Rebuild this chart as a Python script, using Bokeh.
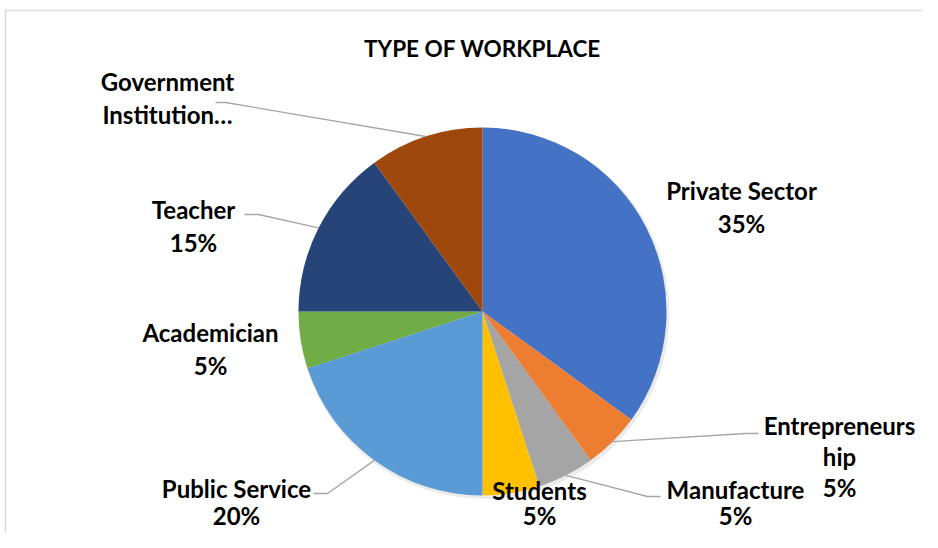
import math
from bokeh.plotting import figure
from bokeh.models import Range1d, ColumnDataSource
from bokeh.core.properties import value
from bokeh.embed import file_html
from bokeh.resources import INLINE

# ---- data ----
categories = ["Private Sector", "Entrepreneurship", "Manufacture", "Students",
              "Public Service", "Academician", "Teacher", "Government Institution"]
percents = [35, 5, 5, 5, 20, 5, 15, 10]
colors = ["#4472C4", "#ED7D31", "#A5A5A5", "#FFC000",
          "#5B9BD5", "#70AD47", "#264478", "#9E480E"]
label_lines = [["Private Sector", "35%"],
               ["Entrepreneurs", "hip", "5%"],
               ["Manufacture", "5%"],
               ["Students", "5%"],
               ["Public Service", "20%"],
               ["Academician", "5%"],
               ["Teacher", "15%"],
               ["Government", "Institution\u2026"]]
title_text = "TYPE OF WORKPLACE"

# ---- layout (picture pixel coordinates; y measured from top) ----
W, H = 922, 532
def Y(sy):
    return H - sy

CX, CY, R = 482, 311, 184
# label first-line center positions
label_pos = [(741, 190), (839, 425), (735, 489), (539, 490),
             (236, 488), (210, 332), (193, 209), (167, 81)]
line_h = [33, 31, 26, 25, 27, 33, 33, 33]
# leader line elbows (None = no leader)
leaders = [None,
           [(745, 433), (758, 433)],
           [(647, 496), (660, 496)],
           None,
           [(327, 493), (313, 493)],
           None,
           [(258, 214), (244, 214)],
           [(225, 102), (215, 102)]]

p = figure(width=W, height=H, output_backend="svg", toolbar_location=None,
           x_range=Range1d(0, W), y_range=Range1d(0, H),
           x_axis_type=None, y_axis_type=None, min_border=0)
p.grid.visible = False
p.outline_line_color = None
p.background_fill_color = "white"
p.border_fill_color = "white"

# chart border (left & top)
p.line([5, 5, W], [Y(H), Y(10), Y(10)], line_color="#D9D9D9", line_width=1.5)

# wedges
starts, ends, mids = [], [], []
cum = 0
for v in percents:
    a0 = 90 - cum * 3.6
    cum += v
    a1 = 90 - cum * 3.6
    starts.append(a1)
    ends.append(a0)
    mids.append((a0 + a1) / 2)

# subtle shadow
p.wedge(x=CX + 1.5, y=Y(CY) - 2, radius=R + 1.5, start_angle=0, end_angle=360,
        start_angle_units="deg", end_angle_units="deg",
        fill_color="#000000", fill_alpha=0.08, line_color=None)

src = ColumnDataSource(dict(x=[CX] * len(percents), y=[Y(CY)] * len(percents),
                            start=starts, end=ends, color=colors, cat=categories))
p.wedge(x="x", y="y", radius=R, start_angle="start", end_angle="end",
        start_angle_units="deg", end_angle_units="deg",
        fill_color="color", line_color=None, source=src)

# leader lines
for i, ld in enumerate(leaders):
    if ld is None:
        continue
    a = math.radians(mids[i])
    xs = [CX + R * math.cos(a)] + [pt[0] for pt in ld]
    ys = [Y(CY) + R * math.sin(a)] + [Y(pt[1]) for pt in ld]
    p.line(xs, ys, line_color="#A6A6A6", line_width=1.3)

# labels
tx, ty, tt = [], [], []
for (lx, ly), lh, lines in zip(label_pos, line_h, label_lines):
    for k, t in enumerate(lines):
        tx.append(lx)
        ty.append(Y(ly + k * lh))
        tt.append(t)
p.text(x=tx, y=ty, text=tt, text_font=value("Lato"), text_font_style="bold",
       text_font_size="24px", text_color="#000000", text_align="center",
       text_baseline="middle")

# title
p.text(x=[482], y=[Y(48)], text=[title_text], text_font=value("Lato"),
       text_font_style="bold", text_font_size="22.5px", text_color="#000000",
       text_align="center", text_baseline="middle")

open("out.html", "w").write(file_html(p, INLINE))
